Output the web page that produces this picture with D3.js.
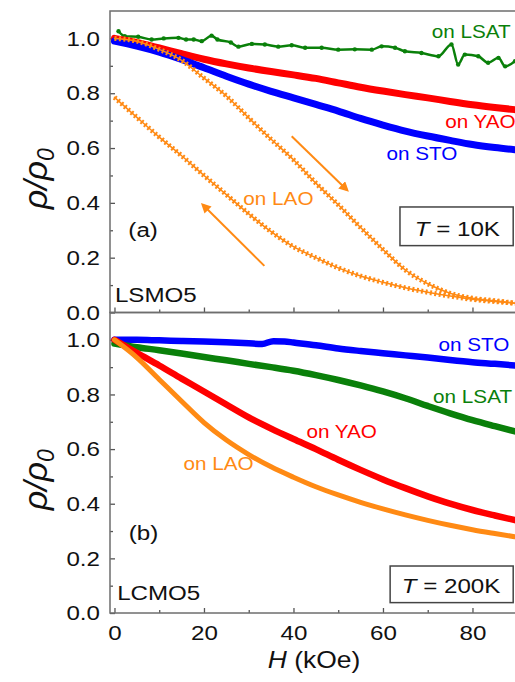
<!DOCTYPE html>
<html>
<head>
<meta charset="utf-8">
<script src="https://cdn.jsdelivr.net/npm/d3@7"></script>
<style>
  body { margin: 0; background: #fff; }
  text { font-family: "Liberation Sans", Arial, sans-serif; }
</style>
</head>
<body>
<svg id="chart" width="515" height="682"></svg>
<script>
// field grid (kOe) shared by most curves
const H = [0, 5, 10, 15, 20, 25, 30, 35, 40, 45, 50, 55, 60, 65, 70, 75, 80, 85, 89.5];

// (a) LSMO5, T = 10K
const yaoA     = [1.0, .985, .965, .944, .924, .907, .892, .879, .867, .854, .838, .822, .808, .795, .783, .770, .758, .748, .740];
const stoA     = [.99, .972, .95, .923, .893, .862, .833, .807, .783, .759, .735, .708, .684, .662, .644, .628, .613, .602, .594];
const laoUpA   = [1.0, .99, .96, .92, .855, .79, .71, .632, .557, .472, .393, .31, .23, .155, .105, .07, .052, .043, .034];
const laoDownA = [.785, .712, .64, .572, .50, .43, .36, .295, .24, .2, .163, .133, .11, .09, .074, .06, .048, .04, .034];
const lsatA_H  = [0.9, 2.3, 5.3, 8.3, 11, 14.3, 16, 17.7, 19.5, 21.7, 23, 26, 27.7, 30.7, 33.6, 36.6, 39.6, 42.6, 46.3, 50, 53.7, 57.5, 59.7, 62.7, 64.9, 68.6, 72.4, 75.3, 76.8, 78.3, 81.3, 83.5, 85.8, 87.3, 89.5];
const lsatA    = [1.026, 1.008, 1.006, .996, 1.0, 1.002, .996, .996, .99, 1.01, .996, .985, .97, .98, .978, .97, .975, .966, .966, .959, .96, .959, .971, .966, .953, .947, .935, .978, .905, .941, .935, .911, .929, .898, .917];

// (b) LCMO5, T = 200K
const stoB_H = [0, 5, 10, 15, 20, 25, 30, 33, 35.5, 38, 40, 45, 50, 55, 60, 65, 70, 75, 80, 85, 89.5];
const stoB   = [1.0, 1.0, .998, .996, .994, .991, .987, .985, .995, .994, .99, .98, .968, .959, .951, .943, .935, .926, .918, .912, .906];
const lsatB  = [.986, .973, .962, .95, .937, .925, .912, .9, .887, .871, .853, .833, .811, .786, .758, .731, .706, .684, .665];
const yaoB   = [1.0, .952, .906, .858, .811, .763, .716, .675, .637, .6, .561, .524, .489, .457, .427, .400, .377, .357, .34];
const laoB   = [1.0, .935, .855, .775, .697, .633, .58, .535, .497, .462, .432, .405, .381, .359, .339, .321, .305, .291, .279];

const yMajor = [0, 0.2, 0.4, 0.6, 0.8, 1.0];
const yMinor = [0.1, 0.3, 0.5, 0.7, 0.9];
const xMajor = [0, 20, 40, 60, 80];
const xMinor = [10, 30, 50, 70, 90];

const GREEN = '#0a800a', RED = '#ff0000', BLUE = '#0000ff', ORANGE = '#ff8a14';

const labelsA = [
  {text: 'on LSAT', h: 70.9, v: 1.0,  color: GREEN},
  {text: 'on YAO',  h: 73.9, v: .673, color: RED},
  {text: 'on STO',  h: 60.8, v: .557, color: BLUE},
  {text: 'on LAO',  h: 28.8, v: .393, color: ORANGE},
  {text: '(a)',     h: 3.1,  v: .277, color: '#111'},
  {text: 'LSMO5',   h: 0.1,  v: .039, color: '#111'}
];
const labelsB = [
  {text: 'on STO',  h: 72.4, v: .958, color: BLUE},
  {text: 'on LSAT', h: 71.2, v: .770, color: GREEN},
  {text: 'on YAO',  h: 42.9, v: .639, color: RED},
  {text: 'on LAO',  h: 15.4, v: .523, color: ORANGE},
  {text: '(b)',     h: 3.2,  v: .267, color: '#111'},
  {text: 'LCMO5',   h: 0.6,  v: .048, color: '#111'}
];
const arrowsA = [
  {h1: 39.6, v1: .643, h2: 51.9, v2: .448},
  {h1: 33.5, v1: .170, h2: 19.8, v2: .392}
];

const svg = d3.select('#chart');
const SX = 1.15; // source text is slightly wide

const x  = d3.scaleLinear().domain([-1, 91]).range([110, 521.7]);
const yA = d3.scaleLinear().domain([0, 1.1]).range([312.5, 11]);
const yB = d3.scaleLinear().domain([0, 1.1]).range([613, 312.5]);

svg.append('defs').append('marker')
  .attr('id', 'arr').attr('viewBox', '0 0 10 10')
  .attr('refX', 7).attr('refY', 5)
  .attr('markerWidth', 5).attr('markerHeight', 5)
  .attr('orient', 'auto')
  .append('path').attr('d', 'M0,0 L10,5 L0,10 z').attr('fill', ORANGE);

function drawPanel(y, opts) {
  const g = svg.append('g');
  const id = 'clip' + opts.tag;
  svg.select('defs').append('clipPath').attr('id', id)
    .append('rect').attr('x', x.range()[0]).attr('y', y.range()[1])
    .attr('width', x.range()[1] - x.range()[0]).attr('height', y.range()[0] - y.range()[1]);

  // y axis ticks (inward)
  const yAxMinor = g.append('g').attr('transform', `translate(${x.range()[0]},0)`)
    .call(d3.axisLeft(y).tickValues(yMinor).tickSize(-3).tickFormat(''));
  const yAx = g.append('g').attr('transform', `translate(${x.range()[0]},0)`)
    .call(d3.axisLeft(y).tickValues(yMajor).tickSize(-5).tickPadding(8.7).tickFormat(d3.format('.1f')));
  // x axis ticks (inward)
  const xAxMinor = g.append('g').attr('transform', `translate(0,${y.range()[0]})`)
    .call(d3.axisBottom(x).tickValues(xMinor).tickSize(-3).tickFormat(''));
  const xAx = g.append('g').attr('transform', `translate(0,${y.range()[0]})`)
    .call(d3.axisBottom(x).tickValues(xMajor).tickSize(-5).tickPadding(12)
      .tickFormat(opts.xLabels ? d3.format('d') : ''));
  [yAxMinor, yAx, xAxMinor, xAx].forEach(a => {
    a.select('.domain').remove();
    a.selectAll('line').attr('stroke', '#555').attr('stroke-width', 1.3);
    a.selectAll('text').attr('font-size', 21).attr('fill', '#111')
      .attr('font-family', '"Liberation Sans", Arial, sans-serif')
      .attr('transform', `scale(${SX},1)`);
  });

  // frame
  g.append('rect')
    .attr('x', x.range()[0]).attr('y', y.range()[1])
    .attr('width', x.range()[1] - x.range()[0]).attr('height', y.range()[0] - y.range()[1])
    .attr('fill', 'none').attr('stroke', '#6e6e6e').attr('stroke-width', 1.5);

  const plot = g.append('g').attr('clip-path', `url(#${id})`);
  const line = d3.line().x(d => x(d[0])).y(d => y(d[1])).curve(d3.curveMonotoneX);

  opts.series.forEach(s => {
    const pts = s.hs.map((h, i) => [h, s.vs[i]]);
    plot.append('path').attr('d', line(pts))
      .attr('fill', 'none').attr('stroke', s.color).attr('stroke-width', s.width)
      .attr('stroke-linecap', 'round');
    if (s.dash) {
      plot.append('path').attr('d', line(pts))
        .attr('fill', 'none').attr('stroke', s.color).attr('stroke-width', s.dashWidth)
        .attr('stroke-dasharray', s.dash);
    }
    if (s.dots) {
      plot.append('g').selectAll('circle').data(pts).join('circle')
        .attr('cx', d => x(d[0])).attr('cy', d => y(d[1])).attr('r', s.dots)
        .attr('fill', s.color);
    }
  });

  (opts.arrows || []).forEach(a => {
    plot.append('line')
      .attr('x1', x(a.h1)).attr('y1', y(a.v1)).attr('x2', x(a.h2)).attr('y2', y(a.v2))
      .attr('stroke', ORANGE).attr('stroke-width', 2).attr('marker-end', 'url(#arr)');
  });

  opts.labels.forEach(l => {
    g.append('text')
      .attr('transform', `translate(${x(l.h)},${y(l.v)}) scale(${SX},1)`)
      .attr('font-size', l.text.startsWith('on') ? 18 : 21)
      .attr('fill', l.color).text(l.text);
  });

  // temperature box
  const b = opts.box;
  g.append('rect')
    .attr('x', x(b.h1)).attr('y', y(b.v2))
    .attr('width', x(b.h2) - x(b.h1)).attr('height', y(b.v1) - y(b.v2))
    .attr('fill', '#fff').attr('stroke', '#444').attr('stroke-width', 1.5);
  const t = g.append('text')
    .attr('transform', `translate(${x(b.th)},${y(b.tv)}) scale(${SX},1)`)
    .attr('font-size', 21).attr('fill', '#111');
  t.append('tspan').attr('font-style', 'italic').text('T');
  t.append('tspan').text(' = ' + b.text);

  // y axis title
  const yt = svg.append('text')
    .attr('transform', `translate(47,${(y.range()[0] + y.range()[1]) / 2 + 17}) rotate(-90)`)
    .attr('text-anchor', 'middle').attr('font-size', 34).attr('font-style', 'italic').attr('fill', '#111');
  yt.append('tspan').text('ρ/ρ');
  yt.append('tspan').attr('font-size', 23).attr('dy', 7).text('0');
}

drawPanel(yA, {
  tag: 'A', xLabels: false,
  series: [
    {hs: lsatA_H, vs: lsatA, color: GREEN, width: 2.5, dots: 2.2},
    {hs: H, vs: yaoA, color: RED, width: 7},
    {hs: H, vs: stoA, color: BLUE, width: 7},
    {hs: H, vs: laoUpA, color: ORANGE, width: 1.5, dash: '2 2.5', dashWidth: 5},
    {hs: H, vs: laoDownA, color: ORANGE, width: 1.5, dash: '2 2.5', dashWidth: 5}
  ],
  labels: labelsA, arrows: arrowsA,
  box: {h1: 63.8, h2: 89.1, v1: .244, v2: .385, th: 67.1, tv: .28, text: '10K'}
});

drawPanel(yB, {
  tag: 'B', xLabels: true,
  series: [
    {hs: stoB_H, vs: stoB, color: BLUE, width: 6.5},
    {hs: H, vs: lsatB, color: GREEN, width: 6.5},
    {hs: H, vs: yaoB, color: RED, width: 6.5},
    {hs: H, vs: laoB, color: ORANGE, width: 5}
  ],
  labels: labelsB,
  box: {h1: 61.6, h2: 89.1, v1: .038, v2: .172, th: 64.2, tv: .073, text: '200K'}
});

// x axis title
const xt = svg.append('text')
  .attr('transform', `translate(314,668) scale(${SX},1)`)
  .attr('text-anchor', 'middle').attr('font-size', 23).attr('fill', '#111');
xt.append('tspan').attr('font-style', 'italic').text('H');
xt.append('tspan').text(' (kOe)');
</script>
</body>
</html>
